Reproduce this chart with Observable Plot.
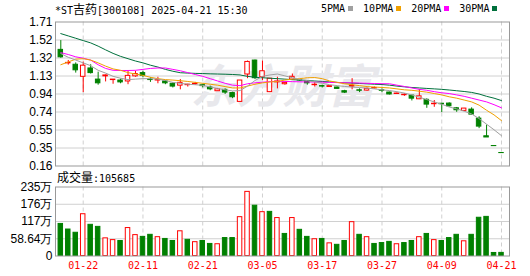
<!DOCTYPE html>
<html><head><meta charset="utf-8">
<script src="https://cdn.jsdelivr.net/npm/d3@7"></script>
<script src="https://cdn.jsdelivr.net/npm/@observablehq/plot@0.6"></script>
<style>
body{margin:0;background:#fff;}
#root{position:relative;width:530px;height:276px;overflow:hidden;background:#fff;font-family:"DejaVu Sans Mono","Noto Sans CJK SC",monospace;font-size:10px;color:#000;}
.abs{position:absolute;white-space:nowrap;line-height:14px;}
.cjk{font-family:"Noto Sans CJK SC";font-size:12px;}
.sq{display:inline-block;width:5px;height:5px;margin-left:3px;vertical-align:1px;}
#root svg{position:absolute;left:0;overflow:visible;}
</style></head><body><div id="root"></div>
<script>
const dates = ["01-17","01-20","01-21","01-22","01-23","01-24","01-27","02-05","02-06","02-07",
"02-10","02-11","02-12","02-13","02-14","02-17","02-18","02-19","02-20","02-21",
"02-24","02-25","02-26","02-27","02-28","03-03","03-04","03-05","03-06","03-07",
"03-10","03-11","03-12","03-13","03-14","03-17","03-18","03-19","03-20","03-21",
"03-24","03-25","03-26","03-27","03-28","03-31","04-01","04-02","04-03","04-07",
"04-08","04-09","04-10","04-11","04-14","04-15","04-16","04-17","04-18","04-21"];
const opens = [1.41,1.265,1.25,1.12,1.21,1.09,1.125,1.085,1.08,1.07,
1.125,1.16,1.09,1.08,1.07,1.045,1.025,1.03,1.04,1.03,
1.005,0.965,0.98,0.945,0.85,1.145,1.295,1.115,0.955,1.06,
1.04,1.09,1.085,1.075,1.03,1.02,1.01,1.005,0.965,1.015,
0.975,0.972,0.995,0.975,0.951,0.935,0.922,0.918,0.878,0.872,
0.825,0.83,0.832,0.781,0.753,0.767,0.67,0.48,0.375,0.300];
const highs = [1.51,1.296,1.27,1.28,1.25,1.17,1.14,1.09,1.095,1.18,
1.18,1.18,1.11,1.115,1.08,1.055,1.09,1.04,1.06,1.04,
1.02,0.995,0.99,0.955,1.08,1.29,1.30,1.29,1.10,1.115,
1.06,1.15,1.09,1.08,1.06,1.03,1.02,1.01,0.975,1.10,
0.99,1.0,1.01,0.99,0.955,0.945,0.937,0.92,0.983,0.883,
0.865,0.835,0.84,0.79,0.78,0.786,0.69,0.60,0.375,0.300];
const lows = [1.32,1.246,1.16,0.95,1.15,1.03,1.065,1.04,1.045,1.035,
1.115,1.11,1.06,1.045,1.035,1.0,0.98,1.01,1.03,1.0,
0.97,0.965,0.93,0.885,0.85,1.10,1.09,1.08,0.95,0.99,
1.03,1.085,1.07,1.03,1.01,1.0,1.005,0.985,0.94,0.98,
0.95,0.965,0.99,0.95,0.925,0.93,0.91,0.86,0.875,0.781,
0.792,0.735,0.795,0.738,0.75,0.71,0.562,0.467,0.374,0.299];
const closes = [1.33,1.27,1.19,1.24,1.16,1.05,1.135,1.09,1.06,1.13,
1.15,1.13,1.085,1.085,1.05,1.015,1.055,1.035,1.045,1.02,
0.985,0.985,0.95,0.90,1.08,1.28,1.105,1.18,1.10,1.07,
1.055,1.12,1.08,1.05,1.035,1.015,1.02,0.99,0.95,1.025,
0.97,0.99,1.0,0.97,0.93,0.94,0.927,0.885,0.91,0.821,
0.83,0.825,0.803,0.76,0.778,0.713,0.584,0.467,0.374,0.299];
// volume in 万
const volumes = [109,90,79,142,106,99,60,54,51,95,
71,65,72,64,58,51,84,55,47,51,
41,40,61,61,132,218,171,149,150,129,
75,129,89,65,57,58,43,38,51,115,
72,64,41,44,48,40,44,51,64,75,
54,51,61,72,50,72,130,133,10.3,10.6];
// volume bar colour: 1 = red (rise), 0 = green (fall)
const volRise = [0,0,0,1,0,0,1,1,0,1,
1,0,0,1,0,0,1,0,1,0,
0,1,0,0,1,1,0,1,0,1,
0,1,0,0,1,0,1,0,0,1,
0,1,0,0,0,1,0,0,1,0,
1,0,0,0,1,0,0,0,0,0];
const ma5 = [1.37,1.33,1.30,1.27,1.24,1.19,1.16,1.125,1.105,1.09,
1.095,1.10,1.10,1.095,1.08,1.06,1.05,1.04,1.035,1.028,
1.01,0.995,0.98,0.968,0.972,1.02,1.08,1.125,1.14,1.15,
1.13,1.11,1.09,1.08,1.065,1.05,1.035,1.025,1.016,1.01,
1.005,0.998,0.99,0.98,0.972,0.96,0.945,0.925,0.90,0.875,
0.85,0.825,0.795,0.775,0.75,0.72,0.67,0.61,0.55,0.486];
const ma10 = [1.25,1.28,1.31,1.315,1.30,1.27,1.235,1.205,1.19,1.165,
1.15,1.135,1.115,1.10,1.09,1.085,1.078,1.07,1.06,1.05,
1.04,1.03,1.015,1.0,1.0,1.02,1.04,1.055,1.065,1.07,
1.085,1.095,1.10,1.11,1.112,1.10,1.075,1.06,1.045,1.035,
1.025,1.015,1.01,1.005,1.0,0.99,0.98,0.975,0.965,0.955,
0.94,0.925,0.905,0.89,0.87,0.85,0.815,0.76,0.71,0.648];
const ma20 = [1.38,1.36,1.335,1.32,1.30,1.25,1.21,1.19,1.188,1.188,
1.19,1.20,1.21,1.215,1.215,1.20,1.185,1.165,1.145,1.125,
1.10,1.075,1.05,1.03,1.025,1.045,1.055,1.062,1.068,1.072,
1.07,1.068,1.066,1.065,1.063,1.062,1.06,1.058,1.056,1.055,
1.053,1.05,1.048,1.046,1.045,1.03,1.016,1.0,0.985,0.975,
0.96,0.948,0.94,0.925,0.91,0.89,0.87,0.85,0.82,0.786];
const ma30 = [1.585,1.56,1.535,1.51,1.485,1.45,1.41,1.372,1.34,1.315,
1.29,1.27,1.245,1.225,1.20,1.18,1.164,1.16,1.157,1.155,
1.152,1.15,1.148,1.145,1.14,1.125,1.115,1.11,1.105,1.10,
1.095,1.09,1.085,1.08,1.075,1.07,1.065,1.06,1.055,1.052,
1.048,1.045,1.04,1.037,1.03,1.02,1.012,1.005,1.0,0.995,
0.99,0.985,0.978,0.97,0.962,0.952,0.935,0.91,0.89,0.864];
const tickDates = ["01-22","02-11","02-21","03-05","03-17","03-27","04-09","04-21"];
const priceTickLabels = ["0.16","0.35","0.55","0.74","0.94","1.13","1.32","1.52","1.71"];
const volTickLabels = ["0","58.64万","117万","176万","235万"];
const priceMin = 0.16, priceMax = 1.71, volMax = 234.56;
const maNames = ["5PMA","10PMA","20PMA","30PMA"];
const maColors = ["#a0a0a0","#f0a000","#ff00ff","#00703c"];
const titleText = ["*ST", "吉药", "[300108] 2025-04-21 15:30"];
const volLabel = ["成交量", ":105685"];

const RED = "#ff0000", GREEN = "#008000";
const rows = dates.map((d, i) => {
  const o = opens[i], c = closes[i], prev = i ? closes[i-1] : o;
  const up = c > o || (c === o && c >= prev);
  return {i, date: d, o, h: highs[i], l: lows[i], c, v: volumes[i], up, vup: volRise[i] === 1,
    ma5: ma5[i], ma10: ma10[i], ma20: ma20[i], ma30: ma30[i]};
});
const tickIdx = tickDates.map(t => dates.indexOf(t));
const pStep = (priceMax - priceMin) / (priceTickLabels.length - 1);
const priceTicks = priceTickLabels.map((_, k) => priceMin + k * pStep);
const vStep = volMax / (volTickLabels.length - 1);
const volTicks = volTickLabels.map((_, k) => k * vStep);
const pLabel = d => priceTickLabels[Math.round((d - priceMin) / pStep)];
const vLabel = d => volTickLabels[Math.round(d / vStep)];

const half = 0.3;
const common = {
  width: 530, marginLeft: 55, marginRight: 21,
  x: {type: "linear", domain: [-0.71, 60.07], axis: null},
  style: {fontFamily: "Liberation Sans, Arial, sans-serif", fontSize: "12px", color: "#000", background: "transparent"}
};

const pricePlot = Plot.plot({
  ...common, height: 170, marginTop: 21.5, marginBottom: 4.5,
  y: {domain: [priceMin, priceMax], axis: null},
  marks: [
    Plot.ruleY(priceTicks.slice(1, -1), {stroke: "#d0d0d0"}),
    Plot.ruleX(tickIdx, {stroke: "#d0d0d0", strokeDasharray: "4,3"}),
    Plot.text(["东方财富"], {frameAnchor: "middle", dy: -6, fontSize: 46, fontWeight: "bold", fontStyle: "italic", fill: "#e8e8ec", fontFamily: "Noto Sans CJK SC"}),
    Plot.ruleX(rows, {x: "i", y1: "l", y2: "h", stroke: d => d.up ? RED : GREEN}),
    Plot.rect(rows, {x1: d => d.i - half, x2: d => d.i + half, y1: "o", y2: "c",
      fill: d => d.up ? "#ffffff" : GREEN, stroke: d => d.up ? RED : GREEN}),
    Plot.line(rows, {x: "i", y: "ma30", stroke: maColors[3], strokeWidth: 1}),
    Plot.line(rows, {x: "i", y: "ma20", stroke: maColors[2], strokeWidth: 1}),
    Plot.line(rows, {x: "i", y: "ma10", stroke: maColors[1], strokeWidth: 1}),
    Plot.line(rows, {x: "i", y: "ma5", stroke: maColors[0], strokeWidth: 1}),
    Plot.axisY(priceTicks, {tickSize: 0, tickPadding: 3, tickFormat: pLabel, label: null}),
    Plot.frame({stroke: "#999"})
  ]
});

const volPlot = Plot.plot({
  ...common, height: 106, marginTop: 16.5, marginBottom: 20.5,
  y: {domain: [0, volMax], axis: null},
  marks: [
    Plot.ruleY(volTicks.slice(1, -1), {stroke: "#d0d0d0"}),
    Plot.ruleX(tickIdx, {stroke: "#d0d0d0", strokeDasharray: "4,3"}),
    Plot.rect(rows, {x1: d => d.i - half, x2: d => d.i + half, y1: 0, y2: "v",
      fill: d => d.vup ? "#ffffff" : GREEN, stroke: d => d.vup ? RED : GREEN}),
    Plot.axisY(volTicks, {tickSize: 0, tickPadding: 3, tickFormat: vLabel, label: null}),
    Plot.axisX(tickIdx, {tickSize: 0, tickPadding: 6, tickFormat: i => dates[i], fill: RED,
      fontFamily: "DejaVu Sans Mono", fontSize: 10, label: null}),
    Plot.frame({stroke: "#999"})
  ]
});

const root = document.getElementById("root");
pricePlot.style.top = "0px";
volPlot.style.top = "170px";
root.appendChild(pricePlot);
root.appendChild(volPlot);

const title = document.createElement("div");
title.className = "abs";
title.style.left = "55px"; title.style.top = "2px";
title.innerHTML = `${titleText[0]}<span class="cjk">${titleText[1]}</span>${titleText[2]}`;
root.appendChild(title);

const legend = document.createElement("div");
legend.className = "abs";
legend.style.left = "321px"; legend.style.top = "2px";
legend.innerHTML = maNames.map((n, k) => `<span style="margin-left:${k ? 10 : 0}px">${n}<span class="sq" style="background:${maColors[k]}"></span></span>`).join("");
root.appendChild(legend);

const vl = document.createElement("div");
vl.className = "abs";
vl.style.left = "57px"; vl.style.top = "170px";
vl.innerHTML = `<span class="cjk">${volLabel[0]}</span>${volLabel[1]}`;
root.appendChild(vl);
</script></body></html>
